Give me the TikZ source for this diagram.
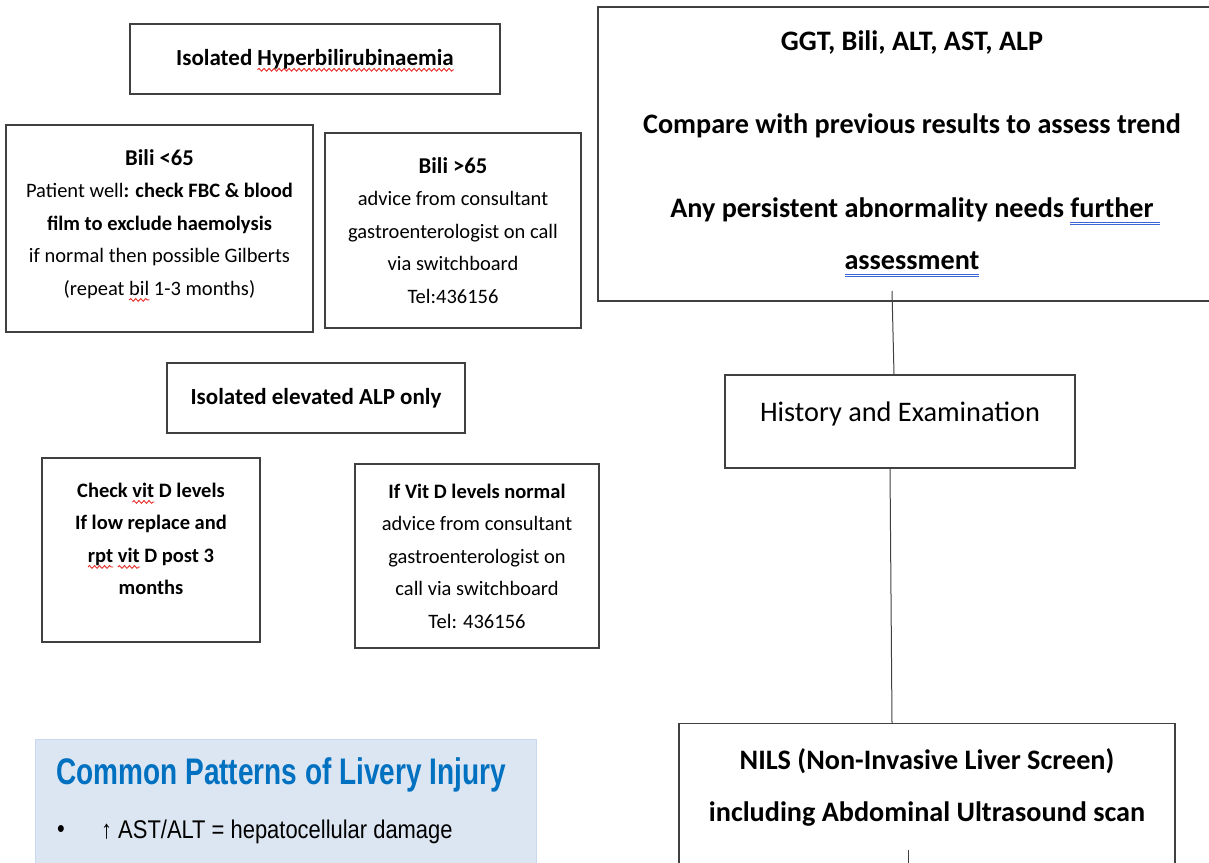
\documentclass[tikz,border=0pt]{standalone}
\usepackage{fontspec}
\setmainfont{Carlito}
\newfontfamily\arialfont{Liberation Sans}
\usepackage{tikz}
\usetikzlibrary{positioning,calc,decorations.pathmorphing}
\usepackage{xcolor}

\definecolor{boxline}{HTML}{404040}
\definecolor{notefill}{HTML}{DCE6F2}
\definecolor{noteedge}{HTML}{C9D8EE}
\definecolor{notetitle}{HTML}{0070C0}
\definecolor{spellred}{HTML}{E8302B}
\definecolor{grammarblue}{HTML}{3A66D6}

% spell-check and grammar marks
\newdimen\markwd
\newcommand\spellwave[1]{\setbox0\hbox{#1}\markwd=\wd0\rlap{\tikz[overlay,x=1pt,y=1pt,baseline=0pt]
  \draw[spellred,line width=0.9pt,decorate,decoration={snake,amplitude=1.4pt,segment length=5pt}]
  (0pt,-4.5pt) -- (\the\markwd,-4.5pt);}#1}
\newcommand\grammarline[1]{\setbox0\hbox{#1}\rlap{\lower7pt\hbox{\color{grammarblue}\vbox{\hrule width\wd0 height 0.8pt\kern1.2pt\hrule width\wd0 height 0.8pt}}}#1}
\newcommand\bilihead[1]{{\bfseries\fontsize{22.6}{32.5}\selectfont #1}}

\begin{document}
\begin{tikzpicture}[x=1pt, y=-1pt,
  box/.style={draw=boxline, line width=1.4pt, align=center, inner sep=4pt},
  smallbox/.style={box, font=\fontsize{20.5}{32.5}\selectfont},
  boldbox/.style={box, font=\bfseries\fontsize{20.5}{32.5}\selectfont},
  titlebox/.style={box, font=\bfseries\fontsize{23}{26}\selectfont},
  bigbox/.style={box, font=\bfseries\fontsize{28.2}{52}\selectfont},
  link/.style={draw=boxline, line width=1pt}]

\useasboundingbox (0,0) rectangle (1209,862);

% === LEFT: Isolated hyperbilirubinaemia ===
\node[titlebox, minimum width=370pt, minimum height=70pt] (hyper) at (315,59)
  {Isolated \spellwave{Hyperbilirubinaemia}};
\node[smallbox, text depth=12pt, minimum width=307pt, minimum height=207pt] (bililow) at (159.5,228.5)
  {\bilihead{Bili <65}\\ Patient well\textbf{: check FBC \& blood}\\ \textbf{film to exclude haemolysis}\\
   if normal then possible Gilberts\\ (repeat \spellwave{bil} 1-3 months)};
\node[smallbox, minimum width=256pt, minimum height=195pt] (bilihigh) at (453,230.5)
  {\bilihead{Bili >65}\\ advice from consultant\\ gastroenterologist on call\\ via switchboard\\ Tel:436156};

% === LEFT: Isolated ALP ===
\node[titlebox, minimum width=298pt, minimum height=70pt] (alp) at (316,398)
  {Isolated elevated ALP only};
\node[boldbox, text depth=22pt, minimum width=218pt, minimum height=184pt] (vitd) at (151,550)
  {Check \spellwave{vit} D levels\\ If low replace and\\ \spellwave{rpt} \spellwave{vit} D post 3\\ months};
\node[smallbox, minimum width=244pt, minimum height=184pt] (vitdnorm) at (477,556)
  {\textbf{If Vit D levels normal}\\ advice from consultant\\ gastroenterologist on\\ call via switchboard\\ Tel: 436156};

% === RIGHT: Pathway ===
\node[bigbox, minimum width=628pt, minimum height=294pt] (ggt) at (912,154)
  {GGT, Bili, ALT, AST, ALP\\[31pt] Compare with previous results to assess trend\\[32pt]
   Any persistent abnormality needs \grammarline{further\ }\\ \grammarline{assessment}};
\node[box, font=\fontsize{28.3}{34}\selectfont, text depth=19pt, minimum width=350pt, minimum height=93pt] (hist) at (900,421.5)
  {History and Examination};
\node[bigbox, anchor=north, inner ysep=25pt, text depth=110pt, minimum width=496pt] (nils) at (927,723)
  {NILS (Non-Invasive Liver Screen)\\ including Abdominal Ultrasound scan};

\coordinate (ggtfoot) at (892,291);
\coordinate (nilsfoot) at (908,850);
\coordinate (nilsout) at (908,880);
\draw[link] (ggtfoot) -- ([xshift=-6pt]hist.north);
\draw[link] ([xshift=-10pt]hist.south) -- ([xshift=-35pt]nils.north);
\draw[link] (nilsfoot) -- (nilsout);

% === BOTTOM LEFT: Patterns note ===
\node[fill=notefill, draw=noteedge, line width=1pt, anchor=north west, minimum width=501pt, minimum height=150pt] (patterns) at (35,739) {};
\node[font=\arialfont\bfseries\fontsize{37}{40}\selectfont, text=notetitle, anchor=west, inner sep=0pt] (ptitle) at (56,775)
  {\scalebox{0.757}[1]{Common Patterns of Livery Injury}};
\node[font=\arialfont\fontsize{25.6}{28}\selectfont, inner sep=0pt] (bulletmark) at (61,832) {\scalebox{0.857}[1]{•}};
\node[font=\arialfont\fontsize{25.6}{28}\selectfont, anchor=west, inner sep=0pt] (pbullet) at (101,832)
  {\scalebox{0.857}[1]{↑ AST/ALT = hepatocellular damage}};

\end{tikzpicture}
\end{document}
